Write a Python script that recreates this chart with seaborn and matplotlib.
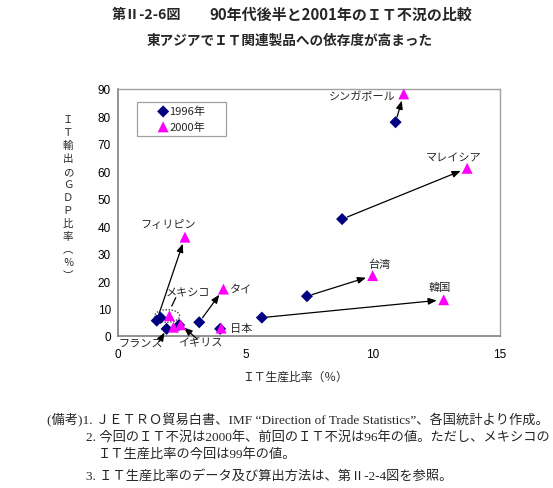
import matplotlib
matplotlib.use("Agg")
import matplotlib.pyplot as plt
from matplotlib.patches import Ellipse, Rectangle
import seaborn as sns

# data: IT production share (x) and IT exports / GDP (y)
countries = ["シンガポール", "マレイシア", "フィリピン", "タイ", "台湾",
             "韓国", "日本", "メキシコ", "フランス", "イギリス"]
it_share_1996 = [10.9, 8.8, 1.52, 3.19, 7.42, 5.65, 4.01, 1.68, 1.91, 2.4]
it_export_1996 = [77.9, 42.6, 5.6, 5.0, 14.5, 6.7, 2.6, 6.6, 2.6, 4.0]
it_share_2000 = [11.22, 13.71, 2.63, 4.14, 10.0, 12.79, 4.05, 2.02, 2.18, 2.46]
it_export_2000 = [88.2, 61.1, 36.0, 17.1, 22.0, 13.2, 2.9, 7.4, 3.2, 4.1]
moved_arrow = ["シンガポール", "マレイシア", "フィリピン", "タイ", "台湾", "韓国"]

x_ticks = [0, 5, 10, 15]
y_ticks = [0, 10, 20, 30, 40, 50, 60, 70, 80, 90]

# label layout (data coords)
label_pos = {
    "シンガポール": (9.58, 87.5), "マレイシア": (13.17, 64.9),
    "フィリピン": (1.99, 40.8), "台湾": (10.26, 26.2), "韓国": (12.62, 17.9),
    "タイ": (4.82, 17.1), "メキシコ": (2.75, 15.7), "日本": (4.84, 2.9),
    "フランス": (0.90, -2.6), "イギリス": (3.22, -2.2),
}

sns.set_style("white")
plt.rcParams['font.family'] = ['Liberation Sans', 'Noto Sans CJK JP']
jp = ['Noto Sans CJK JP', 'DejaVu Sans']
serif_jp = ['Liberation Serif', 'Noto Sans CJK JP']

fig = plt.figure(figsize=(5.53, 4.89), dpi=100)
ax = fig.add_axes([118 / 553, 1 - 337 / 489, 382 / 553, 247 / 489])

navy = "#000080"
magenta = "#FF00FF"
head = "-|>,head_length=0.5,head_width=0.2"

# arrows from 1996 to 2000
for i, c in enumerate(countries):
    if c in moved_arrow:
        ax.annotate("", xy=(it_share_2000[i], it_export_2000[i]),
                    xytext=(it_share_1996[i], it_export_1996[i]),
                    arrowprops=dict(arrowstyle=head, color="black", lw=0.9,
                                    shrinkA=4, shrinkB=5, mutation_scale=10),
                    zorder=2)

sns.scatterplot(x=it_share_1996, y=it_export_1996, marker="D", color=navy,
                s=38, edgecolor="none", label="1996年", ax=ax, zorder=3, clip_on=False)
sns.scatterplot(x=it_share_2000, y=it_export_2000, marker="^", color=magenta,
                s=62, edgecolor="none", label="2000年", ax=ax, zorder=4, clip_on=False)

# country labels
for c in countries:
    lx, ly = label_pos[c]
    ax.text(lx, ly, c, fontsize=8, family=jp, ha="center", va="center",
            clip_on=False, zorder=5)

# label pointers
idx = countries.index("フランス")
ax.annotate("", xy=(it_share_1996[idx], it_export_1996[idx]), xytext=(1.62, -2.0),
            arrowprops=dict(arrowstyle=head, color="black", lw=0.9, shrinkA=0,
                            shrinkB=3, mutation_scale=10), annotation_clip=False)
idx = countries.index("イギリス")
ax.annotate("", xy=(it_share_2000[idx], it_export_2000[idx]), xytext=(3.1, -1.0),
            arrowprops=dict(arrowstyle=head, color="black", lw=0.9, shrinkA=0,
                            shrinkB=3, mutation_scale=10), annotation_clip=False)
ax.plot([2.27, 2.11], [14.0, 10.9], color="black", lw=0.9)
ax.add_patch(Ellipse((1.93, 7.3), 0.98, 4.6, fill=False, edgecolor="#444444",
                     lw=1.0, linestyle=(0, (1, 1.2)), zorder=2))

ax.set_xlim(0, 15)
ax.set_ylim(0, 90)
ax.set_xticks(x_ticks)
ax.set_yticks(y_ticks)
ax.set_xlabel("")
ax.set_ylabel("")
ax.tick_params(direction="in", length=3, width=0.8, color="#808080",
               labelsize=8.5, labelcolor="black")
ax.tick_params(axis="x", pad=9)
ax.tick_params(axis="y", pad=5)
for side in ["left", "bottom"]:
    ax.spines[side].set_color("#808080")
    ax.spines[side].set_linewidth(1.2)
for side in ["top", "right"]:
    ax.spines[side].set_color("#a0a0a0")
    ax.spines[side].set_linewidth(1.0)

# legend box
leg = ax.legend(loc="center", bbox_to_anchor=(0.166, 0.879), frameon=False,
                handletextpad=0.05, labelspacing=0.45, handlelength=1.0,
                borderpad=0.2, prop={'family': jp, 'size': 8})
ax.add_patch(Rectangle((0.0497, 0.808), 0.232, 0.139, transform=ax.transAxes,
                       fill=False, edgecolor="#a0a0a0", lw=0.9))

# axis titles
ylab = "ＩＴ輸出のＧＤＰ比率（％）".replace("（", "︵").replace("）", "︶")
fig.text(68 / 553, 1 - 198 / 489, "\n".join(ylab), family=jp, fontsize=7.5,
         ha="center", va="center", linespacing=1.38)
fig.text(295 / 553, 1 - 377 / 489, "ＩＴ生産比率（％）", family=jp, fontsize=8.5,
         ha="center", va="center")

# titles
fig.text(112 / 553, 1 - 15 / 489, "第Ⅱ-2-6図", family=jp, fontsize=10.2,
         fontweight="bold", ha="left", va="center")
fig.text(209 / 553, 1 - 15 / 489, "90年代後半と2001年のＩＴ不況の比較", family=jp,
         fontsize=10.8, fontweight="bold", ha="left", va="center")
fig.text(290 / 553, 1 - 41 / 489, "東アジアでＩＴ関連製品への依存度が高まった",
         family=jp, fontsize=9.8, fontweight="bold", ha="center", va="center")

# notes
notes = [
    (47, 420, "(備考)1. ＪＥＴＲＯ貿易白書、IMF “Direction of Trade Statistics”、各国統計より作成。"),
    (86, 438, "2. 今回のＩＴ不況は2000年、前回のＩＴ不況は96年の値。ただし、メキシコの"),
    (98, 455, "ＩＴ生産比率の今回は99年の値。"),
    (86, 476, "3. ＩＴ生産比率のデータ及び算出方法は、第Ⅱ-2-4図を参照。"),
]
for nx, ny, txt in notes:
    fig.text(nx / 553, 1 - ny / 489, txt, family=serif_jp, fontsize=9.5,
             ha="left", va="center")

fig.savefig("out.png", dpi=100)
